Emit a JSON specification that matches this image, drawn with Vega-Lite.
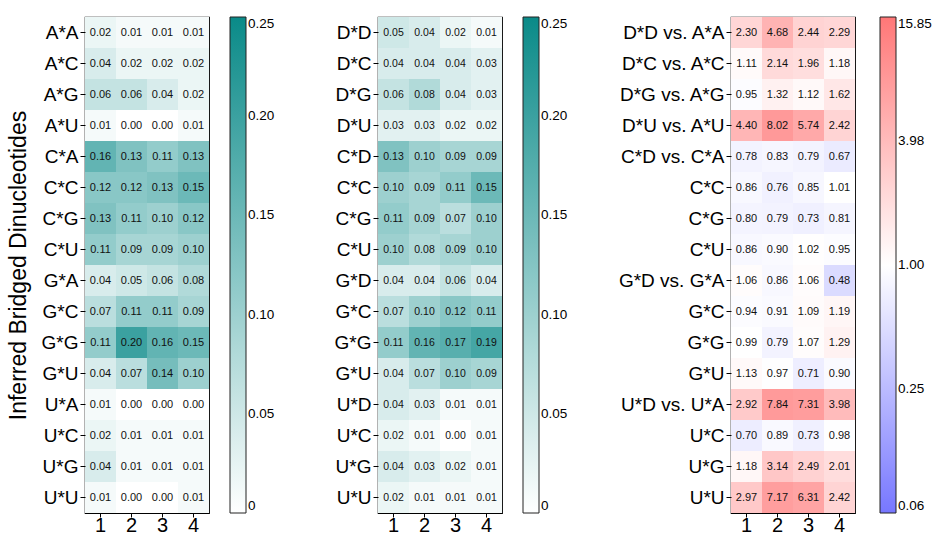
{
  "$schema": "https://vega.github.io/schema/vega-lite/v6.json",
  "padding": {"left": 6, "top": 16, "right": 0, "bottom": 0},
  "background": "white",
  "spacing": 57,
  "resolve": {"scale": {"color": "independent", "x": "independent", "y": "independent"}, "legend": {"color": "independent"}},
  "config": {
    "font": "Liberation Sans",
    "view": {"stroke": "black", "strokeWidth": 1.2},
    "axis": {"domain": false, "tickColor": "black", "tickSize": 5, "labelColor": "black", "labelFont": "Liberation Sans", "grid": false, "labelPadding": 2},
    "axisX": {"tickSize": 4, "labelPadding": -2},
    "legend": {"gradientLength": 496, "gradientThickness": 16, "gradientStrokeColor": "#222", "gradientStrokeWidth": 1, "labelFontSize": 13.5, "labelColor": "black", "labelOffset": 4, "offset": 21, "title": null}
  },
  "datasets": {
    "p1": [
      {"r":"A*A","c":"1","v":0.02},{"r":"A*A","c":"2","v":0.01},{"r":"A*A","c":"3","v":0.01},{"r":"A*A","c":"4","v":0.01},
      {"r":"A*C","c":"1","v":0.04},{"r":"A*C","c":"2","v":0.02},{"r":"A*C","c":"3","v":0.02},{"r":"A*C","c":"4","v":0.02},
      {"r":"A*G","c":"1","v":0.06},{"r":"A*G","c":"2","v":0.06},{"r":"A*G","c":"3","v":0.04},{"r":"A*G","c":"4","v":0.02},
      {"r":"A*U","c":"1","v":0.01},{"r":"A*U","c":"2","v":0.00},{"r":"A*U","c":"3","v":0.00},{"r":"A*U","c":"4","v":0.01},
      {"r":"C*A","c":"1","v":0.16},{"r":"C*A","c":"2","v":0.13},{"r":"C*A","c":"3","v":0.11},{"r":"C*A","c":"4","v":0.13},
      {"r":"C*C","c":"1","v":0.12},{"r":"C*C","c":"2","v":0.12},{"r":"C*C","c":"3","v":0.13},{"r":"C*C","c":"4","v":0.15},
      {"r":"C*G","c":"1","v":0.13},{"r":"C*G","c":"2","v":0.11},{"r":"C*G","c":"3","v":0.10},{"r":"C*G","c":"4","v":0.12},
      {"r":"C*U","c":"1","v":0.11},{"r":"C*U","c":"2","v":0.09},{"r":"C*U","c":"3","v":0.09},{"r":"C*U","c":"4","v":0.10},
      {"r":"G*A","c":"1","v":0.04},{"r":"G*A","c":"2","v":0.05},{"r":"G*A","c":"3","v":0.06},{"r":"G*A","c":"4","v":0.08},
      {"r":"G*C","c":"1","v":0.07},{"r":"G*C","c":"2","v":0.11},{"r":"G*C","c":"3","v":0.11},{"r":"G*C","c":"4","v":0.09},
      {"r":"G*G","c":"1","v":0.11},{"r":"G*G","c":"2","v":0.20},{"r":"G*G","c":"3","v":0.16},{"r":"G*G","c":"4","v":0.15},
      {"r":"G*U","c":"1","v":0.04},{"r":"G*U","c":"2","v":0.07},{"r":"G*U","c":"3","v":0.14},{"r":"G*U","c":"4","v":0.10},
      {"r":"U*A","c":"1","v":0.01},{"r":"U*A","c":"2","v":0.00},{"r":"U*A","c":"3","v":0.00},{"r":"U*A","c":"4","v":0.00},
      {"r":"U*C","c":"1","v":0.02},{"r":"U*C","c":"2","v":0.01},{"r":"U*C","c":"3","v":0.01},{"r":"U*C","c":"4","v":0.01},
      {"r":"U*G","c":"1","v":0.04},{"r":"U*G","c":"2","v":0.01},{"r":"U*G","c":"3","v":0.01},{"r":"U*G","c":"4","v":0.01},
      {"r":"U*U","c":"1","v":0.01},{"r":"U*U","c":"2","v":0.00},{"r":"U*U","c":"3","v":0.00},{"r":"U*U","c":"4","v":0.01}
    ],
    "p2": [
      {"r":"D*D","c":"1","v":0.05},{"r":"D*D","c":"2","v":0.04},{"r":"D*D","c":"3","v":0.02},{"r":"D*D","c":"4","v":0.01},
      {"r":"D*C","c":"1","v":0.04},{"r":"D*C","c":"2","v":0.04},{"r":"D*C","c":"3","v":0.04},{"r":"D*C","c":"4","v":0.03},
      {"r":"D*G","c":"1","v":0.06},{"r":"D*G","c":"2","v":0.08},{"r":"D*G","c":"3","v":0.04},{"r":"D*G","c":"4","v":0.03},
      {"r":"D*U","c":"1","v":0.03},{"r":"D*U","c":"2","v":0.03},{"r":"D*U","c":"3","v":0.02},{"r":"D*U","c":"4","v":0.02},
      {"r":"C*D","c":"1","v":0.13},{"r":"C*D","c":"2","v":0.10},{"r":"C*D","c":"3","v":0.09},{"r":"C*D","c":"4","v":0.09},
      {"r":"C*C","c":"1","v":0.10},{"r":"C*C","c":"2","v":0.09},{"r":"C*C","c":"3","v":0.11},{"r":"C*C","c":"4","v":0.15},
      {"r":"C*G","c":"1","v":0.11},{"r":"C*G","c":"2","v":0.09},{"r":"C*G","c":"3","v":0.07},{"r":"C*G","c":"4","v":0.10},
      {"r":"C*U","c":"1","v":0.10},{"r":"C*U","c":"2","v":0.08},{"r":"C*U","c":"3","v":0.09},{"r":"C*U","c":"4","v":0.10},
      {"r":"G*D","c":"1","v":0.04},{"r":"G*D","c":"2","v":0.04},{"r":"G*D","c":"3","v":0.06},{"r":"G*D","c":"4","v":0.04},
      {"r":"G*C","c":"1","v":0.07},{"r":"G*C","c":"2","v":0.10},{"r":"G*C","c":"3","v":0.12},{"r":"G*C","c":"4","v":0.11},
      {"r":"G*G","c":"1","v":0.11},{"r":"G*G","c":"2","v":0.16},{"r":"G*G","c":"3","v":0.17},{"r":"G*G","c":"4","v":0.19},
      {"r":"G*U","c":"1","v":0.04},{"r":"G*U","c":"2","v":0.07},{"r":"G*U","c":"3","v":0.10},{"r":"G*U","c":"4","v":0.09},
      {"r":"U*D","c":"1","v":0.04},{"r":"U*D","c":"2","v":0.03},{"r":"U*D","c":"3","v":0.01},{"r":"U*D","c":"4","v":0.01},
      {"r":"U*C","c":"1","v":0.02},{"r":"U*C","c":"2","v":0.01},{"r":"U*C","c":"3","v":0.00},{"r":"U*C","c":"4","v":0.01},
      {"r":"U*G","c":"1","v":0.04},{"r":"U*G","c":"2","v":0.03},{"r":"U*G","c":"3","v":0.02},{"r":"U*G","c":"4","v":0.01},
      {"r":"U*U","c":"1","v":0.02},{"r":"U*U","c":"2","v":0.01},{"r":"U*U","c":"3","v":0.01},{"r":"U*U","c":"4","v":0.01}
    ],
    "p3": [
      {"r":"D*D vs. A*A","c":"1","v":2.30},{"r":"D*D vs. A*A","c":"2","v":4.68},{"r":"D*D vs. A*A","c":"3","v":2.44},{"r":"D*D vs. A*A","c":"4","v":2.29},
      {"r":"D*C vs. A*C","c":"1","v":1.11},{"r":"D*C vs. A*C","c":"2","v":2.14},{"r":"D*C vs. A*C","c":"3","v":1.96},{"r":"D*C vs. A*C","c":"4","v":1.18},
      {"r":"D*G vs. A*G","c":"1","v":0.95},{"r":"D*G vs. A*G","c":"2","v":1.32},{"r":"D*G vs. A*G","c":"3","v":1.12},{"r":"D*G vs. A*G","c":"4","v":1.62},
      {"r":"D*U vs. A*U","c":"1","v":4.40},{"r":"D*U vs. A*U","c":"2","v":8.02},{"r":"D*U vs. A*U","c":"3","v":5.74},{"r":"D*U vs. A*U","c":"4","v":2.42},
      {"r":"C*D vs. C*A","c":"1","v":0.78},{"r":"C*D vs. C*A","c":"2","v":0.83},{"r":"C*D vs. C*A","c":"3","v":0.79},{"r":"C*D vs. C*A","c":"4","v":0.67},
      {"r":"C*C","c":"1","v":0.86},{"r":"C*C","c":"2","v":0.76},{"r":"C*C","c":"3","v":0.85},{"r":"C*C","c":"4","v":1.01},
      {"r":"C*G","c":"1","v":0.80},{"r":"C*G","c":"2","v":0.79},{"r":"C*G","c":"3","v":0.73},{"r":"C*G","c":"4","v":0.81},
      {"r":"C*U","c":"1","v":0.86},{"r":"C*U","c":"2","v":0.90},{"r":"C*U","c":"3","v":1.02},{"r":"C*U","c":"4","v":0.95},
      {"r":"G*D vs. G*A","c":"1","v":1.06},{"r":"G*D vs. G*A","c":"2","v":0.86},{"r":"G*D vs. G*A","c":"3","v":1.06},{"r":"G*D vs. G*A","c":"4","v":0.48},
      {"r":"G*C","c":"1","v":0.94},{"r":"G*C","c":"2","v":0.91},{"r":"G*C","c":"3","v":1.09},{"r":"G*C","c":"4","v":1.19},
      {"r":"G*G","c":"1","v":0.99},{"r":"G*G","c":"2","v":0.79},{"r":"G*G","c":"3","v":1.07},{"r":"G*G","c":"4","v":1.29},
      {"r":"G*U","c":"1","v":1.13},{"r":"G*U","c":"2","v":0.97},{"r":"G*U","c":"3","v":0.71},{"r":"G*U","c":"4","v":0.90},
      {"r":"U*D vs. U*A","c":"1","v":2.92},{"r":"U*D vs. U*A","c":"2","v":7.84},{"r":"U*D vs. U*A","c":"3","v":7.31},{"r":"U*D vs. U*A","c":"4","v":3.98},
      {"r":"U*C","c":"1","v":0.70},{"r":"U*C","c":"2","v":0.89},{"r":"U*C","c":"3","v":0.73},{"r":"U*C","c":"4","v":0.98},
      {"r":"U*G","c":"1","v":1.18},{"r":"U*G","c":"2","v":3.14},{"r":"U*G","c":"3","v":2.49},{"r":"U*G","c":"4","v":2.01},
      {"r":"U*U","c":"1","v":2.97},{"r":"U*U","c":"2","v":7.17},{"r":"U*U","c":"3","v":6.31},{"r":"U*U","c":"4","v":2.42}
    ]
  },
  "hconcat": [
    {
      "width": 124, "height": 496,
      "data": {"name": "p1"},
      "encoding": {
        "x": {"field": "c", "type": "nominal", "sort": null, "scale": {"paddingInner": 0, "paddingOuter": 0}, "axis": {"title": null, "labelAngle": 0, "labelFontSize": 20}},
        "y": {"field": "r", "type": "nominal", "sort": null, "scale": {"paddingInner": 0, "paddingOuter": 0}, "axis": {"title": "Inferred Bridged Dinucleotides", "titleFontSize": 23, "titleFontWeight": "normal", "titleFont": "Liberation Sans", "titleColor": "black", "titlePadding": 11, "labelFontSize": 19}}
      },
      "layer": [
        {"mark": {"type": "rect"}, "encoding": {"color": {"field": "v", "type": "quantitative", "scale": {"domain": [0, 0.25], "range": ["#ffffff", "#0a8a88"], "interpolate": "rgb"}, "legend": {"values": [0, 0.05, 0.1, 0.15, 0.2, 0.25], "labelExpr": "datum.value == 0 ? '0' : format(datum.value, '.2f')"}}}},
        {"mark": {"type": "text", "fontSize": 11, "font": "Liberation Sans", "color": "#111"}, "encoding": {"text": {"field": "v", "type": "quantitative", "format": ".2f"}}}
      ]
    },
    {
      "spacing": 48,
      "resolve": {"scale": {"color": "independent", "x": "independent", "y": "independent"}, "legend": {"color": "independent"}},
      "hconcat": [
        {
          "width": 124, "height": 496,
          "data": {"name": "p2"},
          "encoding": {
            "x": {"field": "c", "type": "nominal", "sort": null, "scale": {"paddingInner": 0, "paddingOuter": 0}, "axis": {"title": null, "labelAngle": 0, "labelFontSize": 20}},
            "y": {"field": "r", "type": "nominal", "sort": null, "scale": {"paddingInner": 0, "paddingOuter": 0}, "axis": {"title": null, "labelFontSize": 19}}
          },
          "layer": [
            {"mark": {"type": "rect"}, "encoding": {"color": {"field": "v", "type": "quantitative", "scale": {"domain": [0, 0.25], "range": ["#ffffff", "#0a8a88"], "interpolate": "rgb"}, "legend": {"values": [0, 0.05, 0.1, 0.15, 0.2, 0.25], "labelExpr": "datum.value == 0 ? '0' : format(datum.value, '.2f')"}}}},
            {"mark": {"type": "text", "fontSize": 10.5, "font": "Liberation Sans", "color": "#111"}, "encoding": {"text": {"field": "v", "type": "quantitative", "format": ".2f"}}}
          ]
        },
        {
          "width": 124, "height": 496,
          "data": {"name": "p3"},
          "encoding": {
            "x": {"field": "c", "type": "nominal", "sort": null, "scale": {"paddingInner": 0, "paddingOuter": 0}, "axis": {"title": null, "labelAngle": 0, "labelFontSize": 20}},
            "y": {"field": "r", "type": "nominal", "sort": null, "scale": {"paddingInner": 0, "paddingOuter": 0}, "axis": {"title": null, "labelFontSize": 19}}
          },
          "layer": [
            {"mark": {"type": "rect"}, "encoding": {"color": {"field": "v", "type": "quantitative", "scale": {"type": "log", "domain": [0.0631, 1, 15.85], "range": ["#7777ff", "#ffffff", "#ff7777"], "interpolate": "rgb"}, "legend": {"values": [0.0631, 0.251, 1, 3.98, 15.85], "format": ".2f", "offset": 25}}}},
            {"mark": {"type": "text", "fontSize": 11, "font": "Liberation Sans", "color": "#111"}, "encoding": {"text": {"field": "v", "type": "quantitative", "format": ".2f"}}}
          ]
        }
      ]
    }
  ]
}
